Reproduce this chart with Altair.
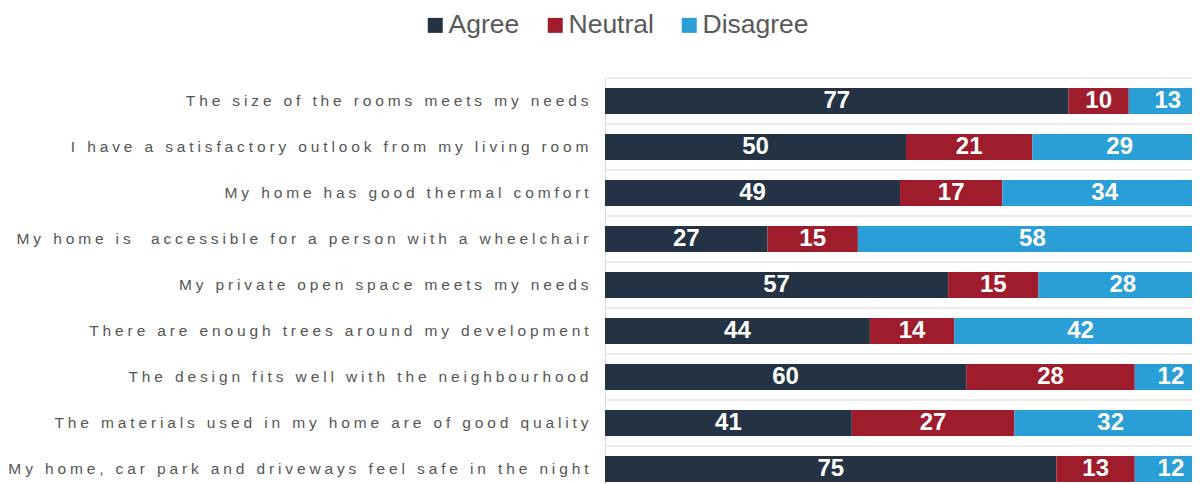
import altair as alt
import pandas as pd

questions = [
    "The size of the rooms meets my needs",
    "I have a satisfactory outlook from my living room",
    "My home has good thermal comfort ",
    "My home is  accessible for a person with a wheelchair ",
    "My private open space meets my needs",
    "There are enough trees around my development",
    "The design fits well with the neighbourhood",
    "The materials used in my home are of good quality",
    "My home, car park and driveways feel safe in the night",
]
responses = ["Agree", "Neutral", "Disagree"]
agree = [77, 50, 49, 27, 57, 44, 60, 41, 75]
neutral = [10, 21, 17, 15, 15, 14, 28, 27, 13]
disagree = [13, 29, 34, 58, 28, 42, 12, 32, 12]
colors = ["#243344", "#9e1c2c", "#2a9ed6"]

rows = []
for i, q in enumerate(questions):
    for k, (r, vals) in enumerate(zip(responses, [agree, neutral, disagree])):
        rows.append({"question": q, "response": r, "value": vals[i], "order": k})
df = pd.DataFrame(rows)

W, H = 587, 406
yscale = alt.Scale(range=[0, 414], paddingInner=0.435, paddingOuter=0.2175)
xscale = alt.Scale(domain=[0, 100], range=[0, 602], nice=False, zero=True)

yaxis = alt.Axis(
    title=None, domain=False, ticks=False, grid=False,
    labelFont="Liberation Sans", labelFontSize=15.5, labelColor="#555555",
    labelPadding=17, labelLimit=0,
    labelExpr="join(split(datum.label, ''), '\u2005')",
)

base = alt.Chart(df)

grid = alt.Chart(pd.DataFrame({"question": questions})).mark_rule(
    color="#d9d9d9", strokeWidth=1, yOffset=-23
).encode(
    y=alt.Y("question:N", sort=questions, scale=yscale, axis=yaxis),
    x=alt.value(0),
    x2=alt.value(W),
)

vline = alt.Chart(pd.DataFrame({"a": [0]})).mark_rule(color="#d9d9d9", strokeWidth=1).encode(
    x=alt.value(0.5), y=alt.value(0), y2=alt.value(H)
)

bars = base.mark_bar(clip=True).encode(
    y=alt.Y("question:N", sort=questions, scale=yscale, axis=yaxis),
    x=alt.X("value:Q", stack="zero", scale=xscale, axis=None),
    color=alt.Color(
        "response:N",
        scale=alt.Scale(domain=responses, range=colors),
        sort=responses,
        legend=alt.Legend(
            title=None, orient="none", legendX=-183, legendY=-66,
            direction="horizontal", symbolType="square", symbolSize=225,
            symbolStrokeWidth=0, symbolOpacity=1,
            labelFont="Liberation Sans", labelFontSize=26.5, labelColor="#595959",
            labelOffset=0, columnPadding=22,
        ),
    ),
    order=alt.Order("order:Q"),
)

labels = base.transform_stack(
    stack="value", groupby=["question"], as_=["x0", "x1"],
    sort=[alt.SortField("order", order="ascending")],
).transform_calculate(
    mid="(datum.x0 + datum.x1) / 2"
).mark_text(
    font="Liberation Sans", fontSize=24, fontWeight="bold", color="white",
    baseline="middle", align="center", clip=True,
).encode(
    y=alt.Y("question:N", sort=questions, scale=yscale, axis=yaxis),
    x=alt.X("mid:Q", scale=xscale, axis=None),
    text=alt.Text("value:Q"),
)

chart = alt.layer(grid, vline, bars, labels).properties(
    width=W, height=H,
    autosize=alt.AutoSizeParams(type="none"),
    padding={"left": 597, "top": 70, "right": 0, "bottom": 0},
    background="white",
).configure_view(stroke=None)

chart.save("out.html", embed_options={"renderer": "svg", "actions": False})
